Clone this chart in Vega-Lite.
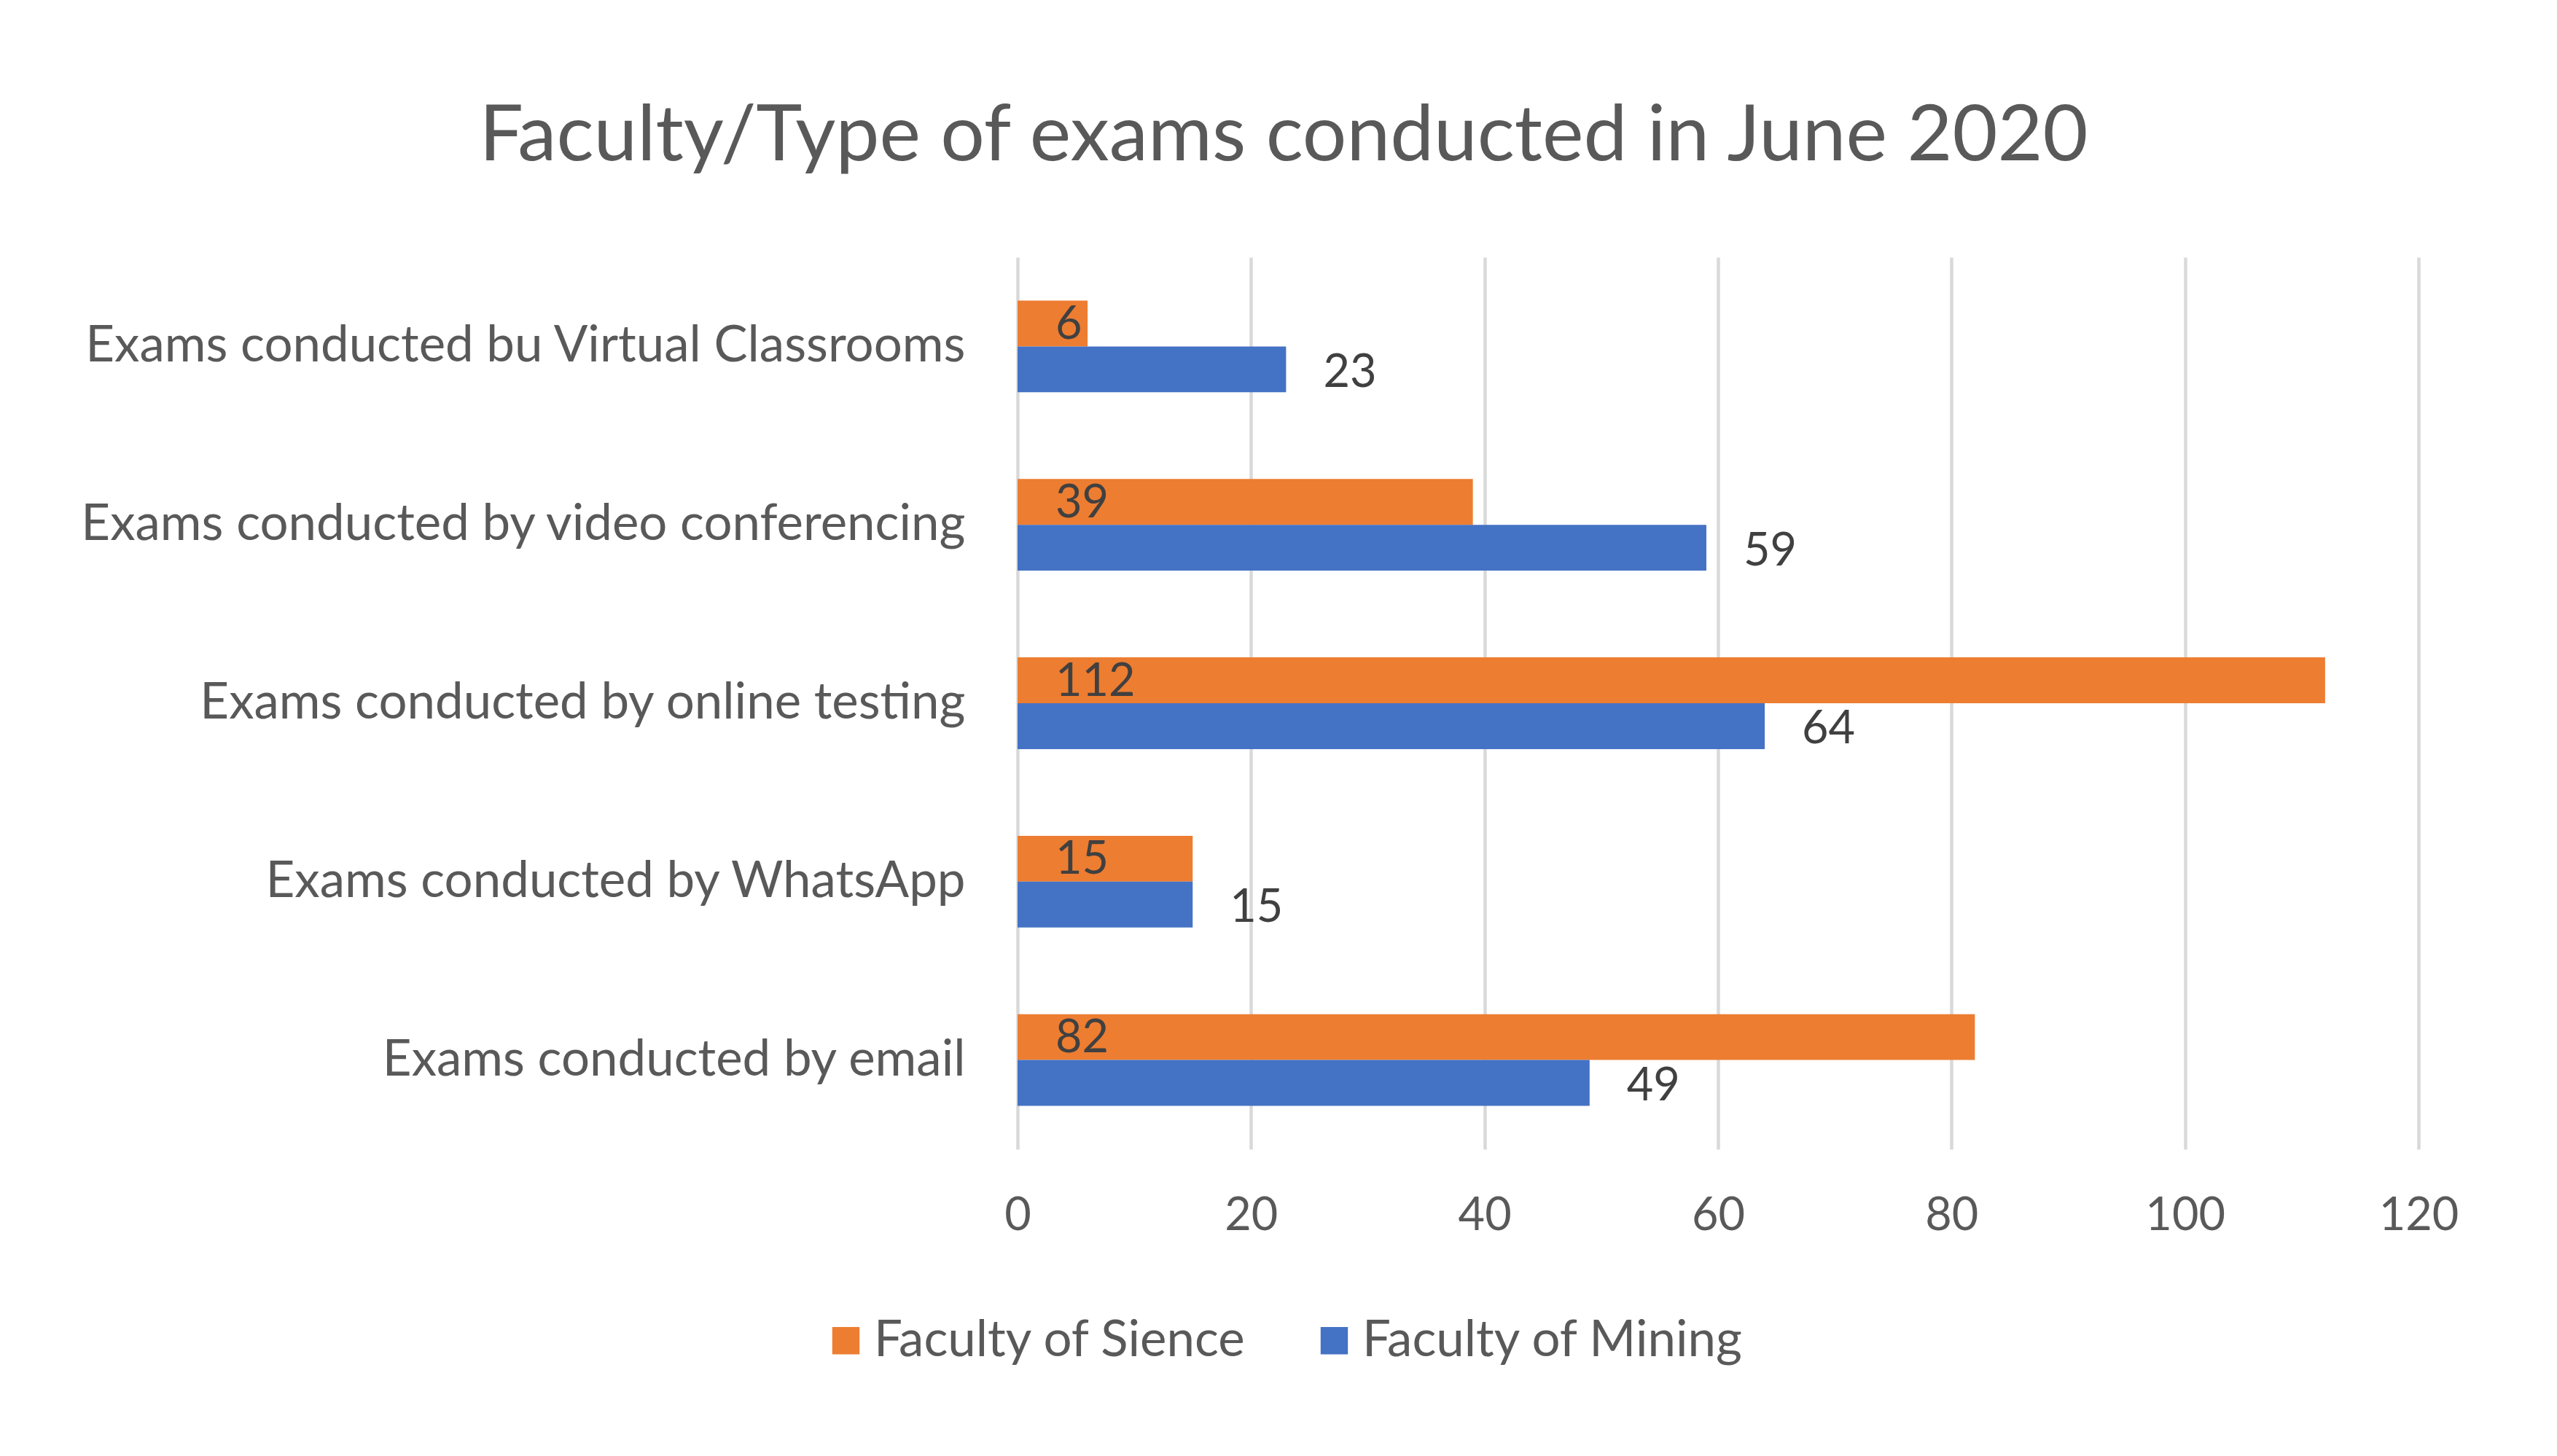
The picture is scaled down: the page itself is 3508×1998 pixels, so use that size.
{
  "$schema": "https://vega.github.io/schema/vega-lite/v6.json",
  "autosize": {"type": "none"},
  "width": 1922,
  "height": 1224,
  "padding": {"left": 1396, "top": 353, "right": 190, "bottom": 421},
  "background": "#ffffff",
  "config": {
    "font": "Lato",
    "view": {"stroke": null},
    "axis": {"labelFont": "Lato", "labelColor": "#595959"},
    "legend": {"labelFont": "Lato"}
  },
  "title": {
    "text": "Faculty/Type of exams conducted in June 2020",
    "fontSize": 107,
    "font": "Lato",
    "fontWeight": "normal",
    "color": "#595959",
    "anchor": "middle",
    "frame": "group",
    "baseline": "alphabetic",
    "offset": 26,
    "dx": -596
  },
  "data": {
    "values": [
      {"category": "Exams conducted bu Virtual Classrooms", "faculty": "Faculty of Sience", "value": 6},
      {"category": "Exams conducted bu Virtual Classrooms", "faculty": "Faculty of Mining", "value": 23},
      {"category": "Exams conducted by video conferencing", "faculty": "Faculty of Sience", "value": 39},
      {"category": "Exams conducted by video conferencing", "faculty": "Faculty of Mining", "value": 59},
      {"category": "Exams conducted by online testing", "faculty": "Faculty of Sience", "value": 112},
      {"category": "Exams conducted by online testing", "faculty": "Faculty of Mining", "value": 64},
      {"category": "Exams conducted by WhatsApp", "faculty": "Faculty of Sience", "value": 15},
      {"category": "Exams conducted by WhatsApp", "faculty": "Faculty of Mining", "value": 15},
      {"category": "Exams conducted by email", "faculty": "Faculty of Sience", "value": 82},
      {"category": "Exams conducted by email", "faculty": "Faculty of Mining", "value": 49}
    ]
  },
  "encoding": {
    "y": {
      "field": "category",
      "type": "nominal",
      "sort": ["Exams conducted bu Virtual Classrooms", "Exams conducted by video conferencing", "Exams conducted by online testing", "Exams conducted by WhatsApp", "Exams conducted by email"],
      "scale": {"paddingInner": 0.486, "paddingOuter": 0.243},
      "axis": {"title": null, "domain": false, "ticks": false, "labelFontSize": 69, "labelPadding": 72, "labelLimit": 3000, "labelColor": "#595959"}
    },
    "yOffset": {
      "field": "faculty",
      "type": "nominal",
      "sort": ["Faculty of Sience", "Faculty of Mining"],
      "scale": {"paddingInner": 0, "paddingOuter": 0}
    }
  },
  "layer": [
    {
      "mark": {"type": "bar"},
      "encoding": {
        "x": {
          "field": "value",
          "type": "quantitative",
          "scale": {"domain": [0, 120], "nice": false},
          "axis": {"title": null, "values": [0, 20, 40, 60, 80, 100, 120], "domain": false, "ticks": false, "grid": true, "gridColor": "#d9d9d9", "gridWidth": 4.5, "labelFontSize": 63, "labelPadding": 60, "labelFlush": false, "labelColor": "#595959"}
        },
        "color": {
          "field": "faculty",
          "type": "nominal",
          "scale": {"domain": ["Faculty of Sience", "Faculty of Mining"], "range": ["#ED7D31", "#4472C4"]},
          "legend": {
            "title": null,
            "orient": "none",
            "legendX": -270,
            "legendY": 1452,
            "direction": "horizontal",
            "symbolType": "square",
            "symbolSize": 1400,
            "symbolStrokeWidth": 0,
            "labelFontSize": 69,
            "labelColor": "#595959",
            "labelOffset": 4,
            "columnPadding": 85,
            "labelLimit": 2000
          }
        }
      }
    },
    {
      "transform": [{"filter": "datum.faculty === 'Faculty of Sience'"}],
      "mark": {"type": "text", "align": "left", "baseline": "middle", "dx": 52, "dy": 2, "fontSize": 63, "font": "Lato", "color": "#404040"},
      "encoding": {
        "x": {"datum": 0, "type": "quantitative"},
        "text": {"field": "value", "type": "quantitative"}
      }
    },
    {
      "transform": [{"filter": "datum.faculty === 'Faculty of Mining'"}],
      "mark": {"type": "text", "align": "left", "baseline": "middle", "dx": 51, "dy": 5, "fontSize": 63, "font": "Lato", "color": "#404040"},
      "encoding": {
        "x": {"field": "value", "type": "quantitative"},
        "text": {"field": "value", "type": "quantitative"}
      }
    }
  ]
}
